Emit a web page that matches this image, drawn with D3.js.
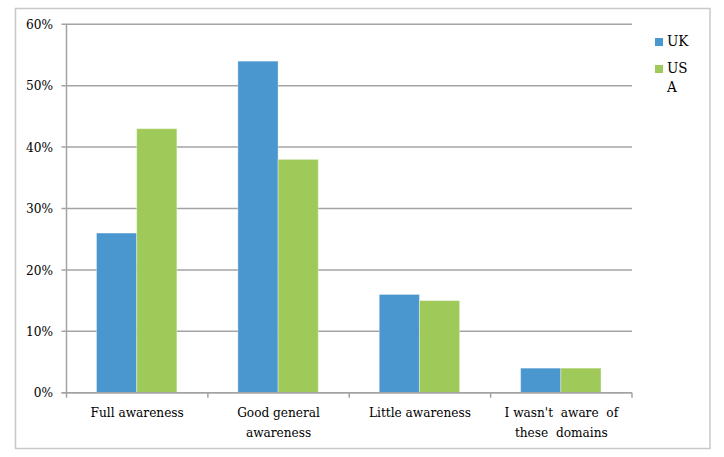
<!DOCTYPE html>
<html><head><meta charset="utf-8">
<script src="https://cdn.jsdelivr.net/npm/d3@7"></script>
<style>body{margin:0;background:#fff}svg{display:block}</style>
</head><body><svg id="c" width="724" height="457"></svg>
<script>
const categories = [["Full awareness"], ["Good general", "awareness"], ["Little awareness"], ["I wasn't  aware  of", "these  domains"]];
const seriesNames = ["UK", "USA"];
const ukValues = [26, 54, 16, 4];
const usaValues = [43, 38, 15, 4];
const yTicks = [0, 10, 20, 30, 40, 50, 60];
const colors = ["#4a96cf", "#9fca5a"];

const svg = d3.select("#c");
const font = "'DejaVu Serif Condensed', 'DejaVu Serif', serif";
const L = 66.5, R = 632, T = 24.3, B = 392.7;

svg.append("rect").attr("x", 15.5).attr("y", 8.5).attr("width", 694.5).attr("height", 440)
  .attr("fill", "#fff").attr("stroke", "#c8c8c8").attr("stroke-width", 1.5);

const x = d3.scaleBand().domain(d3.range(categories.length)).range([L, R]).paddingInner(0).paddingOuter(0);
const x1 = d3.scaleBand().domain(seriesNames).range([30, x.bandwidth() - 31]).padding(0);
const y = d3.scaleLinear().domain([0, 60]).range([B, T]);

svg.append("g").selectAll("line").data(yTicks).join("line")
  .attr("x1", L - 5).attr("x2", R).attr("y1", d => y(d)).attr("y2", d => y(d))
  .attr("stroke", "#a3a3a3").attr("stroke-width", 1.5);

const data = categories.map((c, i) => ({i, vals: [ukValues[i], usaValues[i]]}));
const g = svg.append("g").selectAll("g").data(data).join("g")
  .attr("transform", d => `translate(${x(d.i)},0)`);
g.selectAll("rect").data(d => d.vals.map((v, k) => ({v, k}))).join("rect")
  .attr("x", d => x1(seriesNames[d.k])).attr("width", x1.bandwidth())
  .attr("y", d => y(d.v)).attr("height", d => B - y(d.v))
  .attr("fill", d => colors[d.k]).attr("stroke", "rgba(255,255,255,0.35)").attr("stroke-width", 1);

svg.append("line").attr("x1", L).attr("x2", L).attr("y1", T).attr("y2", B)
  .attr("stroke", "#a3a3a3").attr("stroke-width", 1.5);
svg.append("line").attr("x1", L - 5).attr("x2", R).attr("y1", B).attr("y2", B)
  .attr("stroke", "#a3a3a3").attr("stroke-width", 1.5);
svg.append("g").selectAll("line").data(d3.range(categories.length + 1)).join("line")
  .attr("x1", d => L + d * x.bandwidth()).attr("x2", d => L + d * x.bandwidth())
  .attr("y1", B).attr("y2", B + 5).attr("stroke", "#a3a3a3").attr("stroke-width", 1.5);

svg.append("g").selectAll("text").data(yTicks).join("text")
  .attr("x", 53).attr("y", d => y(d)).attr("dy", "0.35em").attr("text-anchor", "end")
  .style("font-family", font).style("font-size", "13.5px").attr("fill", "#000").text(d => d + "%");

const xl = svg.append("g").selectAll("text").data(categories).join("text")
  .attr("x", (d, i) => x(i) + x.bandwidth() / 2).attr("y", 417)
  .attr("text-anchor", "middle").style("font-family", font).style("font-size", "13.5px").attr("fill", "#000")
  .style("white-space", "pre");
xl.selectAll("tspan").data(d => d).join("tspan")
  .attr("x", function() { return this.parentNode.getAttribute("x"); })
  .attr("dy", (d, i) => i === 0 ? 0 : 19.5).text(d => d);

const legendLines = [["UK"], ["US", "A"]];
const lg = svg.append("g");
[46, 73].forEach((by, k) => {
  lg.append("rect").attr("x", 655).attr("y", by - 8).attr("width", 8).attr("height", 8).attr("fill", colors[k]);
  const t = lg.append("text").attr("x", 667).attr("y", by).style("font-family", font).style("font-size", "15px").attr("fill", "#000");
  legendLines[k].forEach((s, j) => t.append("tspan").attr("x", 667).attr("dy", j === 0 ? 0 : 18.5).text(s));
});
</script></body></html>
